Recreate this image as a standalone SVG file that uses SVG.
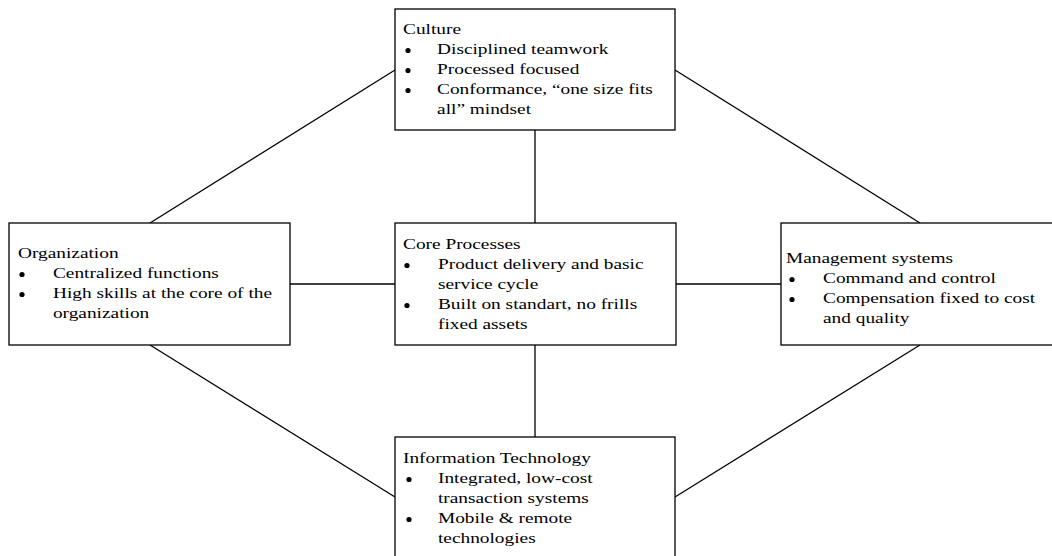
<svg xmlns="http://www.w3.org/2000/svg" width="1052" height="556" viewBox="0 0 1052 556">
<style>
  .box { fill: #fff; stroke: #000; stroke-width: 1.3; }
  .conn line { stroke: #000; stroke-width: 1.3; }
  .t text { font-family: "Liberation Serif", "Times New Roman", serif; font-size: 15px; fill: #000; }
  .dot { fill: #000; }
</style>
<defs>
  <circle id="bullet" class="dot" r="2.6" cx="0" cy="0"/>
</defs>
<rect width="1052" height="556" fill="#fff"/>
<g id="connectors" class="conn">
  <line x1="150" y1="223" x2="395" y2="70"/>
  <line x1="675" y1="70" x2="920" y2="223"/>
  <line x1="535" y1="130" x2="535" y2="223"/>
  <line x1="290" y1="284" x2="395" y2="284"/>
  <line x1="676" y1="284" x2="781" y2="284"/>
  <line x1="535" y1="345" x2="535" y2="437"/>
  <line x1="150" y1="345" x2="395" y2="497"/>
  <line x1="920" y1="345" x2="675" y2="497"/>
</g>
<g id="culture">
  <rect class="box" x="395" y="9" width="280" height="121"/>
  <g class="t" transform="translate(403,0) scale(1.29,1)">
    <text x="0" y="34">Culture</text>
    <text x="26.4" y="54">Disciplined teamwork</text>
    <text x="26.4" y="74">Processed focused</text>
    <text x="26.4" y="94">Conformance, “one size fits</text>
    <text x="26.4" y="114">all” mindset</text>
  </g>
  <use href="#bullet" x="408" y="50.5"/>
  <use href="#bullet" x="408" y="70.5"/>
  <use href="#bullet" x="408" y="90.5"/>
</g>
<g id="organization">
  <rect class="box" x="9" y="223" width="281" height="122"/>
  <g class="t" transform="translate(18,0) scale(1.29,1)">
    <text x="0" y="258">Organization</text>
    <text x="27.1" y="278">Centralized functions</text>
    <text x="27.1" y="298">High skills at the core of the</text>
    <text x="27.1" y="318">organization</text>
  </g>
  <use href="#bullet" x="22" y="274.5"/>
  <use href="#bullet" x="22" y="294.5"/>
</g>
<g id="core">
  <rect class="box" x="395" y="223" width="281" height="122"/>
  <g class="t" transform="translate(403,0) scale(1.29,1)">
    <text x="0" y="249">Core Processes</text>
    <text x="27.1" y="269">Product delivery and basic</text>
    <text x="27.1" y="289">service cycle</text>
    <text x="27.1" y="309">Built on standart, no frills</text>
    <text x="27.1" y="329">fixed assets</text>
  </g>
  <use href="#bullet" x="407" y="265.5"/>
  <use href="#bullet" x="407" y="305.5"/>
</g>
<g id="management">
  <rect class="box" x="781" y="223" width="290" height="122"/>
  <g class="t" transform="translate(786,0) scale(1.29,1)">
    <text x="0" y="263">Management systems</text>
    <text x="28.7" y="283">Command and control</text>
    <text x="28.7" y="303">Compensation fixed to cost</text>
    <text x="28.7" y="323">and quality</text>
  </g>
  <use href="#bullet" x="792" y="279.5"/>
  <use href="#bullet" x="792" y="299.5"/>
</g>
<g id="it">
  <rect class="box" x="395" y="437" width="280" height="140"/>
  <g class="t" transform="translate(403,0) scale(1.29,1)">
    <text x="0" y="463">Information Technology</text>
    <text x="27.1" y="483">Integrated, low-cost</text>
    <text x="27.1" y="503">transaction systems</text>
    <text x="27.1" y="523">Mobile &amp; remote</text>
    <text x="27.1" y="543">technologies</text>
  </g>
  <use href="#bullet" x="409" y="479.5"/>
  <use href="#bullet" x="409" y="519.5"/>
</g>
</svg>
